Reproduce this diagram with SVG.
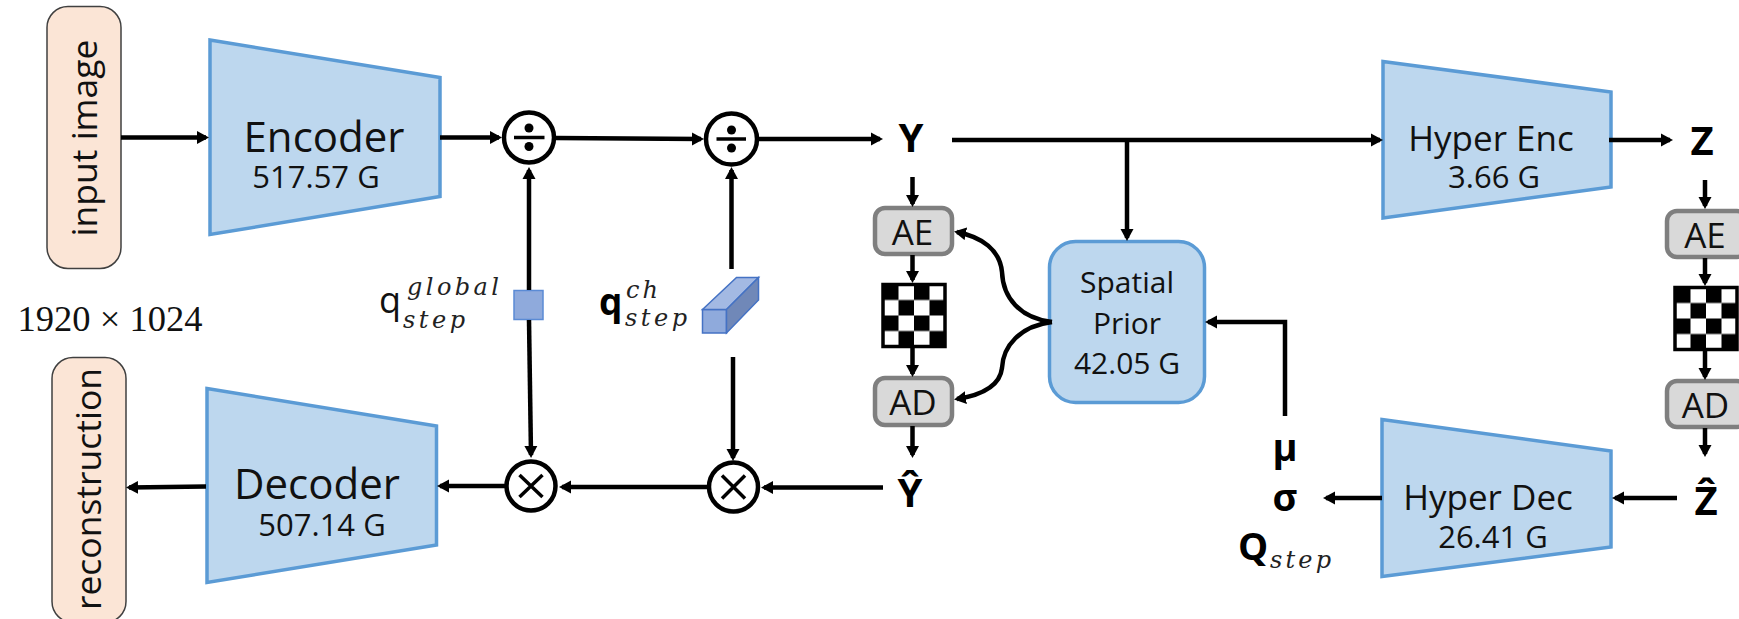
<svg xmlns="http://www.w3.org/2000/svg" width="1739" height="619" viewBox="0 0 1739 619">
<style>
text{font-family:"Open Sans","Noto Sans","Liberation Sans",sans-serif;fill:#111}
.m{font-family:"Liberation Serif","DejaVu Serif",serif}
.i{font-family:"DejaVu Serif","Liberation Serif",serif;font-style:italic;fill:#222;font-size:24px}
.b{font-weight:700;font-family:"Open Sans","Liberation Sans",sans-serif;fill:#000}
.tr{fill:#bdd7ee;stroke:#5b9bd5;stroke-width:3.5}
.io{fill:#fbe5d6;stroke:#404040;stroke-width:1.5}
.op{fill:#fff;stroke:#000;stroke-width:4.5}
.g{fill:#d9d9d9;stroke:#7f7f7f;stroke-width:4.5}
.c path{fill:none;stroke:#000;stroke-width:4.5;marker-end:url(#a)}
.l{fill:none;stroke:#000;stroke-width:3.5}
.t1{font-size:35.5px;text-anchor:middle}
.big{font-size:42px;text-anchor:middle}
.sub{font-size:31px;text-anchor:middle}
.hy{font-size:35px;text-anchor:middle}
.sp{font-size:30px;text-anchor:middle}
.ae{font-size:35px;text-anchor:middle}
.sym{font-size:40px;text-anchor:middle}
</style>
<defs>
<marker id="a" markerUnits="userSpaceOnUse" markerWidth="14" markerHeight="14" refX="9" refY="7" orient="auto"><path d="M0 .5L12 7L0 13.5Z" fill="#000"/></marker>
<pattern id="ck" patternUnits="userSpaceOnUse" x="883" y="284.5" width="31" height="31"><rect width="31" height="31" fill="#fff"/><rect width="15.5" height="15.5" fill="#000"/><rect x="15.5" y="15.5" width="15.5" height="15.5" fill="#000"/></pattern>
<pattern id="ck2" patternUnits="userSpaceOnUse" x="1675" y="287.5" width="31" height="31"><rect width="31" height="31" fill="#fff"/><rect width="15.5" height="15.5" fill="#000"/><rect x="15.5" y="15.5" width="15.5" height="15.5" fill="#000"/></pattern>
</defs>
<g id="input-image"><rect class="io" x="47" y="6.5" width="74" height="262" rx="21"/><text class="t1" transform="translate(97 138) rotate(-90)">input image</text></g>
<g id="reconstruction"><rect class="io" x="52" y="357.5" width="74" height="265" rx="21"/><text class="t1" transform="translate(100.5 489) rotate(-90)">reconstruction</text></g>
<text class="m" x="110" y="331" font-size="36.5" text-anchor="middle">1920 × 1024</text>
<g id="encoder"><path class="tr" d="M210 40L440 77.5V196.5L210 234.5Z"/><text class="big" x="324" y="152">Encoder</text><text class="sub" x="316" y="188">517.57 G</text></g>
<g id="decoder"><path class="tr" d="M207 388.5L436.5 426V545L207 582.5Z"/><text class="big" x="317" y="499">Decoder</text><text class="sub" x="322" y="536">507.14 G</text></g>
<g id="hyper-enc"><path class="tr" d="M1383 61.5L1611 92V187L1383 218Z"/><text class="hy" x="1491" y="151">Hyper Enc</text><text class="sub" x="1494" y="188">3.66 G</text></g>
<g id="hyper-dec"><path class="tr" d="M1382 419.5L1611 451V547L1382 576.5Z"/><text class="hy" x="1488" y="510">Hyper Dec</text><text class="sub" x="1493" y="548">26.41 G</text></g>
<g id="spatial-prior"><rect class="tr" x="1049.5" y="241.5" width="155" height="161" rx="26"/><text class="sp" x="1127" y="292.5">Spatial</text><text class="sp" x="1127" y="334">Prior</text><text class="sp" x="1127" y="374">42.05 G</text></g>
<g id="div1"><circle class="op" cx="529" cy="137.5" r="25"/><path class="l" d="M514 137.5H544.5"/><circle cx="529" cy="128" r="4.5"/><circle cx="529" cy="146.5" r="4.5"/></g>
<g id="div2"><circle class="op" cx="731.5" cy="139" r="25.5"/><path class="l" d="M716.5 139H746"/><circle cx="731.5" cy="130" r="4.5"/><circle cx="731.5" cy="148" r="4.5"/></g>
<g id="mul1"><circle class="op" cx="531" cy="486" r="24.5"/><path class="l" d="M519.5 475L542.5 497M542.5 475L519.5 497"/></g>
<g id="mul2"><circle class="op" cx="733.5" cy="487" r="24.5"/><path class="l" d="M722 475.5L745 498.5M745 475.5L722 498.5"/></g>
<g id="q-global"><rect x="514" y="290.5" width="29" height="29" fill="#8faadc" stroke="#5b8bd5" stroke-width="1.5"/><text x="379" y="313" font-size="36">q</text><text class="i" x="407" y="295" textLength="92" lengthAdjust="spacing">global</text><text class="i" x="403" y="328" textLength="62" lengthAdjust="spacing">step</text></g>
<g id="q-ch"><path d="M702.5 309.5V333H726.5V309.5Z" fill="#8faadc" stroke="#4472c4" stroke-width="1.5"/><path d="M702.5 309.5L736.5 277.5H758.5L726.5 309.5Z" fill="#a3b9e3" stroke="#4472c4" stroke-width="1.5"/><path d="M726.5 333V309.5L758.5 277.5V300Z" fill="#7088b8" stroke="#4472c4" stroke-width="1.5"/><text class="b" x="599" y="315" font-size="37">q</text><text class="i" x="626" y="298" textLength="32" lengthAdjust="spacing">ch</text><text class="i" x="625" y="326" textLength="62" lengthAdjust="spacing">step</text></g>
<g id="y"><text class="b sym" x="911" y="152">Y</text></g>
<g id="y-hat"><text class="b sym" x="910" y="507">Ŷ</text></g>
<g id="z"><text class="b sym" x="1702" y="155">Z</text></g>
<g id="z-hat"><text class="b sym" x="1706" y="515">Ẑ</text></g>
<g id="ae1"><rect class="g" x="875" y="208" width="77" height="46" rx="10"/><text class="ae" x="912.5" y="245">AE</text></g>
<g id="ad1"><rect class="g" x="875" y="378" width="77" height="47" rx="10"/><text class="ae" x="913" y="415">AD</text></g>
<g id="ae2"><rect class="g" x="1667" y="211" width="80" height="46" rx="10"/><text class="ae" x="1705" y="248">AE</text></g>
<g id="ad2"><rect class="g" x="1667" y="381" width="80" height="46" rx="10"/><text class="ae" x="1705.5" y="418">AD</text></g>
<g id="check1"><rect x="883" y="284.5" width="62" height="62" fill="url(#ck)" stroke="#000" stroke-width="3.5"/></g>
<g id="check2"><rect x="1675" y="287.5" width="62" height="62" fill="url(#ck2)" stroke="#000" stroke-width="3.5"/></g>
<g id="params"><text class="b" x="1285" y="461" font-size="38" text-anchor="middle">μ</text><text class="b" x="1285" y="511" font-size="38" text-anchor="middle">σ</text><text class="b" x="1238" y="560" font-size="38">Q</text><text class="i" x="1270" y="568" textLength="61" lengthAdjust="spacing">step</text></g>
<g class="c" id="connectors">
<path d="M121 137.5H206"/>
<path d="M440 137.5H499"/>
<path d="M556 138L701 139"/>
<path d="M758 139H880"/>
<path d="M952 140H1380"/>
<path d="M1127 140V238"/>
<path d="M1609 140H1670"/>
<path d="M529 290V170"/>
<path d="M731.5 269V170"/>
<path d="M529 320L531 455"/>
<path d="M733 357V458"/>
<path d="M206 486.5L129 487.5"/>
<path d="M505 486H440"/>
<path d="M707 487H562"/>
<path d="M883 487.5H764"/>
<path d="M912.5 177V204"/>
<path d="M912.5 255V280"/>
<path d="M912.5 347V374"/>
<path d="M912.5 426V455"/>
<path d="M1052 322C1020 318 1003 298 1002 272C1000 250 982 237 957 232"/>
<path d="M1052 322C1020 326 1003 346 1002 368C1000 386 982 395 957 399"/>
<path d="M1285 416V322H1208"/>
<path d="M1382 498H1326"/>
<path d="M1677 498H1615"/>
<path d="M1705 180V206"/>
<path d="M1705 258V283"/>
<path d="M1705 351V377"/>
<path d="M1705 428V454"/>
</g>
</svg>
